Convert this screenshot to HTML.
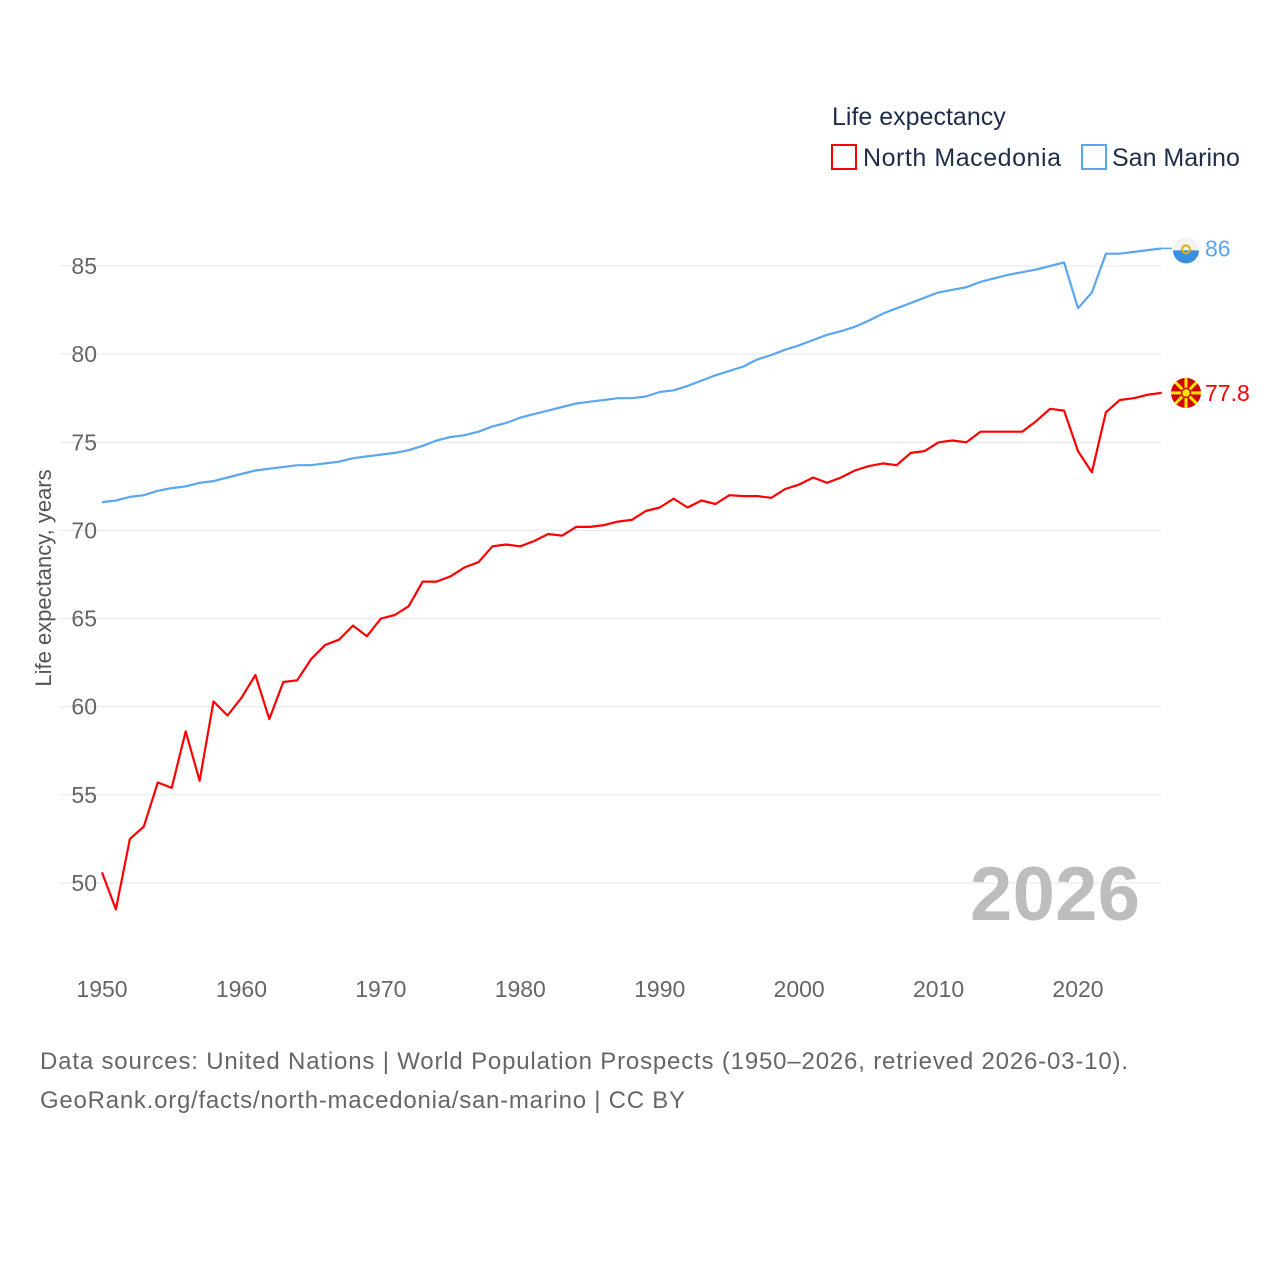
<!DOCTYPE html>
<html><head><meta charset="utf-8">
<style>
html,body{margin:0;padding:0;background:#fff;}
body{width:1280px;height:1280px;overflow:hidden;font-family:"Liberation Sans",sans-serif;}
</style></head>
<body>
<svg id="chart" width="1280" height="1280" xmlns="http://www.w3.org/2000/svg" style="font-family:'Liberation Sans',sans-serif">
  <text x="832" y="125" font-size="25" fill="#1f2d4a">Life expectancy</text>
  <g>
    <rect x="832" y="145" width="24" height="24" fill="none" stroke="#ff0000" stroke-width="2"/>
    <text x="863" y="166" font-size="25" fill="#1f2d4a" textLength="198">North Macedonia</text>
  </g>
  <g>
    <rect x="1082" y="145" width="24" height="24" fill="none" stroke="#5ba7ef" stroke-width="2"/>
    <text x="1112" y="166" font-size="25" fill="#1f2d4a">San Marino</text>
  </g>
  <g id="grid"></g>
  <g id="yticks"></g>
  <g id="xticks"></g>
  <text transform="translate(51,578) rotate(-90)" text-anchor="middle" font-size="22" fill="#555">Life expectancy, years</text>
  <text x="1140" y="920" text-anchor="end" font-size="76" font-weight="bold" fill="#bdbdbd" textLength="170">2026</text>
  <g id="series"></g>
  <text x="40" y="1069" font-size="24" fill="#666" textLength="1088">Data sources: United Nations | World Population Prospects (1950–2026, retrieved 2026-03-10).</text>
  <text x="40" y="1108" font-size="24" fill="#666" textLength="645">GeoRank.org/facts/north-macedonia/san-marino | CC BY</text>
</svg>
<script>
const years = [];
for (let y = 1950; y <= 2026; y++) years.push(y);
const northMacedonia = [50.6,48.5,52.5,53.2,55.7,55.4,58.6,55.8,60.3,59.5,60.5,61.8,59.3,61.4,61.5,62.7,63.5,63.8,64.6,64.0,65.0,65.2,65.7,67.1,67.1,67.4,67.9,68.2,69.1,69.2,69.1,69.4,69.8,69.7,70.2,70.2,70.3,70.5,70.6,71.1,71.3,71.8,71.3,71.7,71.5,72.0,71.95,71.95,71.85,72.35,72.6,73.0,72.7,73.0,73.4,73.65,73.8,73.7,74.4,74.5,75.0,75.1,75.0,75.6,75.6,75.6,75.6,76.2,76.9,76.8,74.5,73.3,76.7,77.4,77.5,77.7,77.8];
const sanMarino = [71.6,71.7,71.9,72.0,72.25,72.4,72.5,72.7,72.8,73.0,73.2,73.4,73.5,73.6,73.7,73.7,73.8,73.9,74.1,74.2,74.3,74.4,74.55,74.8,75.1,75.3,75.4,75.6,75.9,76.1,76.4,76.6,76.8,77.0,77.2,77.3,77.4,77.5,77.5,77.6,77.85,77.95,78.2,78.5,78.8,79.05,79.3,79.7,79.95,80.25,80.5,80.8,81.1,81.3,81.55,81.9,82.3,82.6,82.9,83.2,83.5,83.65,83.8,84.1,84.3,84.5,84.65,84.8,85.0,85.2,82.6,83.5,85.7,85.7,85.8,85.9,86.0];
const yTicks = [50,55,60,65,70,75,80,85];
const xTicks = [1950,1960,1970,1980,1990,2000,2010,2020];
const endLabels = ["77.8","86"];

const NS = "http://www.w3.org/2000/svg";
const xs = y => 102 + (y - 1950) * (1078 - 102) / 70;
const ys = v => 883 - (v - 50) * (883 - 266) / 35;
function el(tag, attrs, parent){const e=document.createElementNS(NS,tag);for(const k in attrs)e.setAttribute(k,attrs[k]);parent.appendChild(e);return e;}
const grid=document.getElementById('grid'), yt=document.getElementById('yticks'), xt=document.getElementById('xticks'), ser=document.getElementById('series');
yTicks.forEach(v=>{
  const l=el('line',{x1:60,x2:1161,y1:ys(v),y2:ys(v),stroke:'#e6e6e6','stroke-width':1},grid);
  
  
  const t=el('text',{x:97,y:ys(v)+8,'text-anchor':'end','font-size':23,fill:'#666'},yt);
  t.textContent=v;
  
  
});
xTicks.forEach(y=>{
  const t=el('text',{x:xs(y),y:997,'text-anchor':'middle','font-size':23,fill:'#666'},xt);
  t.textContent=y;
  
  
});
function drawLine(vals,color,name){
  const d=vals.map((v,i)=>(i?'L':'M')+xs(years[i]).toFixed(1)+','+ys(v).toFixed(1)).join(' ');
  const p=el('path',{d:d,fill:'none',stroke:color,'stroke-width':2.2,'stroke-linejoin':'round'},ser);
  
  
}
drawLine(sanMarino,'#5ba7ef','line-san-marino');
drawLine(northMacedonia,'#ff0000','line-north-macedonia');

const nmLast=northMacedonia[northMacedonia.length-1], smLast=sanMarino[sanMarino.length-1];
const lastX=xs(years[years.length-1]);
el('line',{x1:lastX,x2:1172,y1:ys(smLast),y2:ys(smLast),stroke:'#5ba7ef','stroke-width':1.5},ser);
const smf=el('g',{},ser);


el('circle',{cx:1186,cy:ys(smLast)+2,r:13,fill:'#f2f2f2'},smf);
el('path',{d:`M1173,${ys(smLast)+2} A13,13 0 0 0 1199,${ys(smLast)+2} Z`,fill:'#3c8fe0'},smf);
el('circle',{cx:1186,cy:ys(smLast)+1,r:4,fill:'none',stroke:'#e0b000','stroke-width':2},smf);
const smt=el('text',{x:1205,y:ys(smLast)+8,'font-size':23,fill:'#5ba7ef'},ser);
smt.textContent=endLabels[1];


const nmf=el('g',{},ser);


const cy=ys(nmLast);
el('circle',{cx:1186,cy:cy,r:15,fill:'#d20000'},nmf);
for(let a=0;a<8;a++){const ang=a*Math.PI/4;el('line',{x1:1186,y1:cy,x2:1186+15*Math.cos(ang),y2:cy+15*Math.sin(ang),stroke:'#ffe600','stroke-width':3},nmf);}
el('circle',{cx:1186,cy:cy,r:4.5,fill:'#ffe600',stroke:'#d20000','stroke-width':1.5},nmf);
const nmt=el('text',{x:1205,y:cy+8,'font-size':23,fill:'#ff0000'},ser);
nmt.textContent=endLabels[0];


</script>
</body></html>
